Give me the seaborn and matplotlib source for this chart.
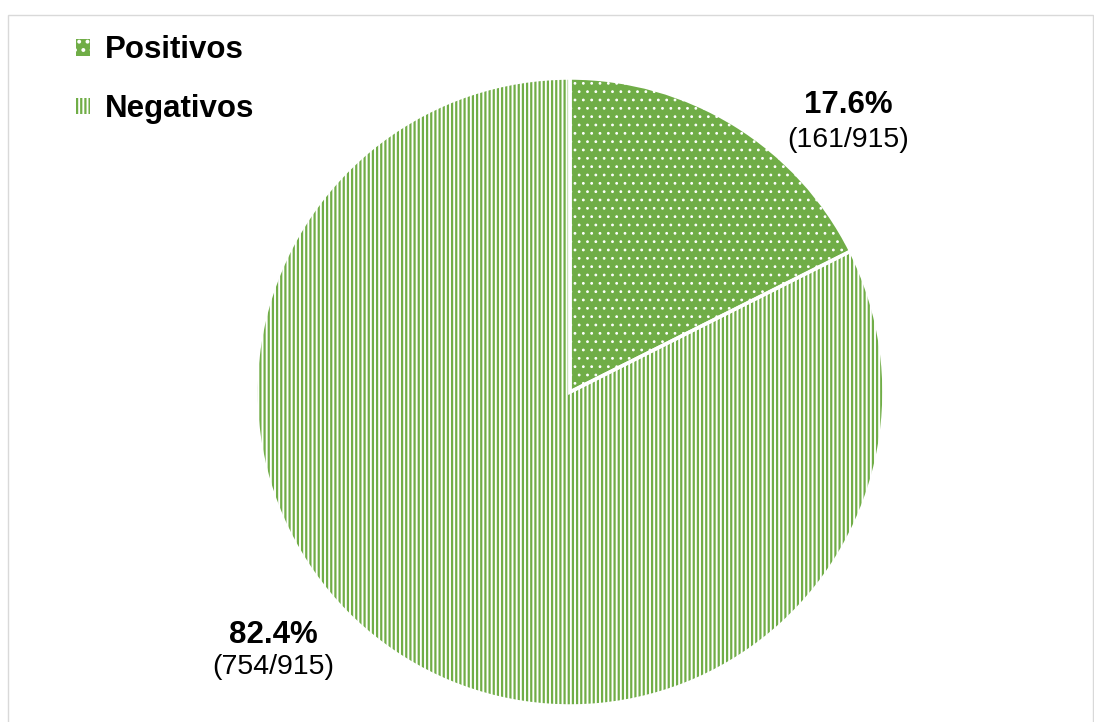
import matplotlib
matplotlib.use('Agg')
import matplotlib.pyplot as plt
import matplotlib.patches as mpatches
import seaborn as sns

# data
categories = ['Positivos', 'Negativos']
counts = [161, 754]
total = 915
pct_labels = ['17.6%', '82.4%']
count_labels = ['(161/915)', '(754/915)']

green = '#70AD47'

sns.set_style('white')
plt.rcParams['font.family'] = ['Liberation Sans', 'DejaVu Sans']
plt.rcParams['text.color'] = 'black'

fig = plt.figure(figsize=(10.94, 7.22), dpi=100)
ax = fig.add_axes([256 / 1094, 16 / 722, 628 / 1094, 628 / 722])

# Positivos: green fill with white dots
plt.rcParams['hatch.linewidth'] = 0.8
w1, _ = ax.pie(counts, startangle=90, counterclock=False,
               colors=[green, 'none'],
               wedgeprops=dict(edgecolor='white', linewidth=0))
w1[0].set_hatch('..')
w1[1].set_visible(False)

# Negativos: vertical green lines on white
plt.rcParams['hatch.linewidth'] = 1.6
w2, _ = ax.pie(counts, startangle=90, counterclock=False,
               colors=['none', 'white'],
               wedgeprops=dict(edgecolor=green, linewidth=0))
w2[1].set_hatch('||||')
w2[0].set_visible(False)

# white separators
ax.pie(counts, startangle=90, counterclock=False, colors=['none', 'none'],
       wedgeprops=dict(edgecolor='white', linewidth=2.5))

ax.set_xlim(-1, 1)
ax.set_ylim(-1, 1)
ax.set_aspect('equal')

# labels
ax.text(0.885, 0.914, pct_labels[0], ha='center', va='center', fontsize=22.5, fontweight='bold')
ax.text(0.885, 0.802, count_labels[0], ha='center', va='center', fontsize=20.5)
ax.text(-0.946, -0.774, pct_labels[1], ha='center', va='center', fontsize=22.5, fontweight='bold')
ax.text(-0.946, -0.876, count_labels[1], ha='center', va='center', fontsize=20.5)

# legend
plt.rcParams['hatch.linewidth'] = 0.8
h1 = mpatches.Patch(facecolor=green, edgecolor='white', hatch='..', linewidth=0)
plt.rcParams['hatch.linewidth'] = 1.6
h2 = mpatches.Patch(facecolor='white', edgecolor=green, hatch='||||', linewidth=0)
leg = fig.legend([h1, h2], categories, loc='upper left', bbox_to_anchor=(0.044, 0.99),
                 frameon=False, handlelength=0.45, handleheight=0.45, handletextpad=0.45,
                 labelspacing=0.92, prop=dict(size=22.5, weight='bold'))

# outer frame
fig.add_artist(mpatches.Rectangle((8 / 1094, -0.01), 1085 / 1094, 1 - 15 / 722 + 0.01,
                                  transform=fig.transFigure, fill=False,
                                  edgecolor='#d9d9d9', linewidth=1))

plt.savefig('out.png', dpi=100)
